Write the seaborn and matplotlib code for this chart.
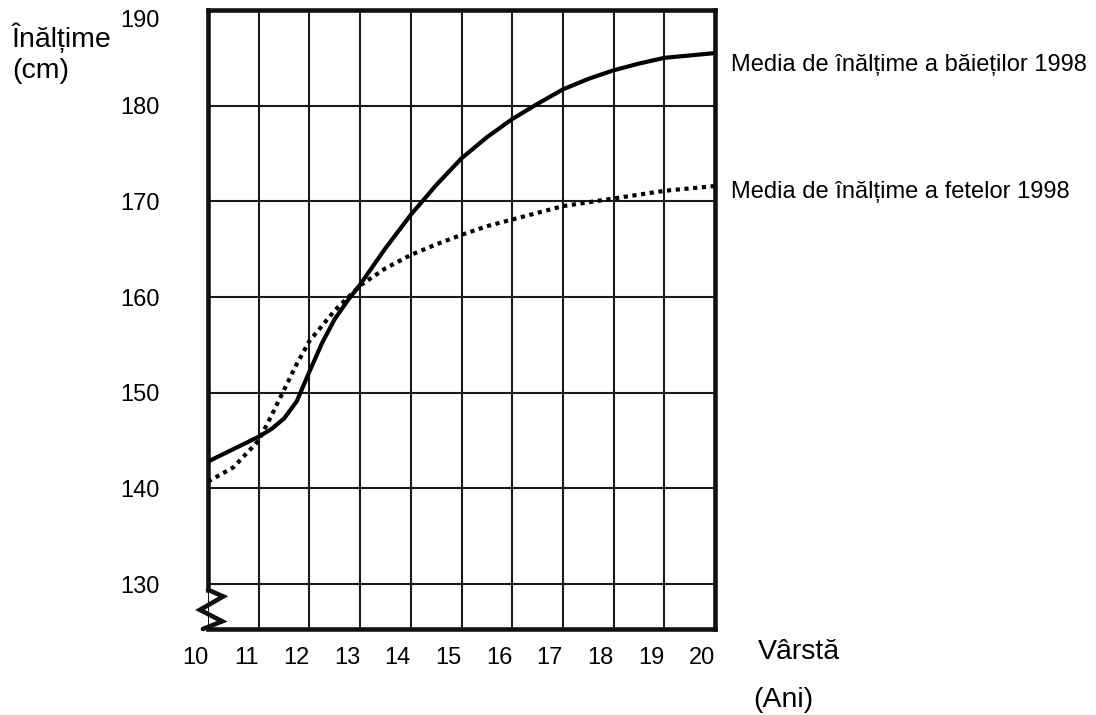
import pandas as pd
import seaborn as sns
import matplotlib.pyplot as plt

# average heights (age in years, height in cm)
boys_age = [10, 10.5, 11, 11.25, 11.5, 11.75, 12, 12.25, 12.5, 12.75, 13, 13.5, 14, 14.5, 15, 15.5, 16, 16.5, 17, 17.5, 18, 18.5, 19, 20]
boys_height = [142.8, 144.1, 145.4, 146.2, 147.3, 149.1, 152.2, 155.2, 157.7, 159.6, 161.3, 165.1, 168.6, 171.7, 174.5, 176.7, 178.6, 180.2, 181.7, 182.8, 183.7, 184.4, 185.0, 185.5]

girls_age = [10, 10.5, 11, 11.25, 11.5, 11.75, 12, 12.5, 13, 13.5, 14, 14.5, 15, 15.5, 16, 17, 18, 19, 20]
girls_height = [140.7, 142.2, 145.0, 147.6, 150.3, 153.0, 155.4, 158.6, 161.2, 163.0, 164.4, 165.5, 166.5, 167.4, 168.1, 169.5, 170.3, 171.1, 171.6]

x_ticks = list(range(10, 21))
y_ticks = [130, 140, 150, 160, 170, 180, 190]

boys_label = "Media de înălțime a băieților 1998"
girls_label = "Media de înălțime a fetelor 1998"

df = pd.concat([
    pd.DataFrame({"age": boys_age, "height": boys_height, "group": "boys"}),
    pd.DataFrame({"age": girls_age, "height": girls_height, "group": "girls"}),
])

sns.set_style("white")
plt.rcParams['font.family'] = ['Liberation Sans', 'DejaVu Sans']
plt.rcParams['text.color'] = 'black'

fig, ax = plt.subplots(figsize=(10.96, 7.15), dpi=100)
fig.subplots_adjust(left=0.1898, right=0.6524, top=0.986, bottom=0.1203)

sns.lineplot(data=df, x="age", y="height", style="group", color="black",
             dashes={"boys": "", "girls": (1, 1.1)}, linewidth=3.0,
             legend=False, ax=ax, zorder=3)
for ln in ax.lines:
    ln.set_solid_joinstyle("round")
    ln.set_dash_joinstyle("round")

ax.set_xlim(10, 20)
ax.set_ylim(125.3, 190)
ax.set_xticks(x_ticks)
ax.set_yticks(y_ticks)
ax.set_xticklabels([str(t) for t in x_ticks], ha="right")
ax.set_yticklabels([str(t) for t in y_ticks])
ax.get_yticklabels()[-1].set_va("top")
ax.tick_params(axis="both", length=0, labelsize=17, colors="black")
ax.tick_params(axis="x", pad=13)
ax.tick_params(axis="y", pad=35)
ax.set_xlabel("")
ax.set_ylabel("")

ax.grid(True, color="#1a1a1a", linewidth=1.5)
ax.set_axisbelow(True)

for s in ax.spines.values():
    s.set_linewidth(3.3)
    s.set_color("#111111")
ax.spines["left"].set_bounds(129.4, 190)

# axis break zigzag at the bottom of the y axis
zx = [10, 10.3, 9.84, 10.28, 9.9]
zy = [129.4, 128.7, 127.3, 126.1, 125.3]
ax.plot(zx, zy, color="#111111", lw=3.3, clip_on=False, solid_joinstyle="miter", zorder=5)

fig.text(12 / 1096, 1 - 47 / 715, "Înălțime", fontsize=20.5, ha="left", va="baseline")
fig.text(12 / 1096, 1 - 78 / 715, "(cm)", fontsize=20.5, ha="left", va="baseline")
fig.text(758 / 1096, 1 - 652 / 715, "Vârstă", fontsize=20.5, ha="left", va="center")
fig.text(753 / 1096, 1 - 700 / 715, "(Ani)", fontsize=20.5, ha="left", va="center")

fig.text(731 / 1096, 1 - 65 / 715, boys_label, fontsize=17, ha="left", va="center")
fig.text(731 / 1096, 1 - 192 / 715, girls_label, fontsize=17, ha="left", va="center")

fig.savefig("out.png", dpi=100)
